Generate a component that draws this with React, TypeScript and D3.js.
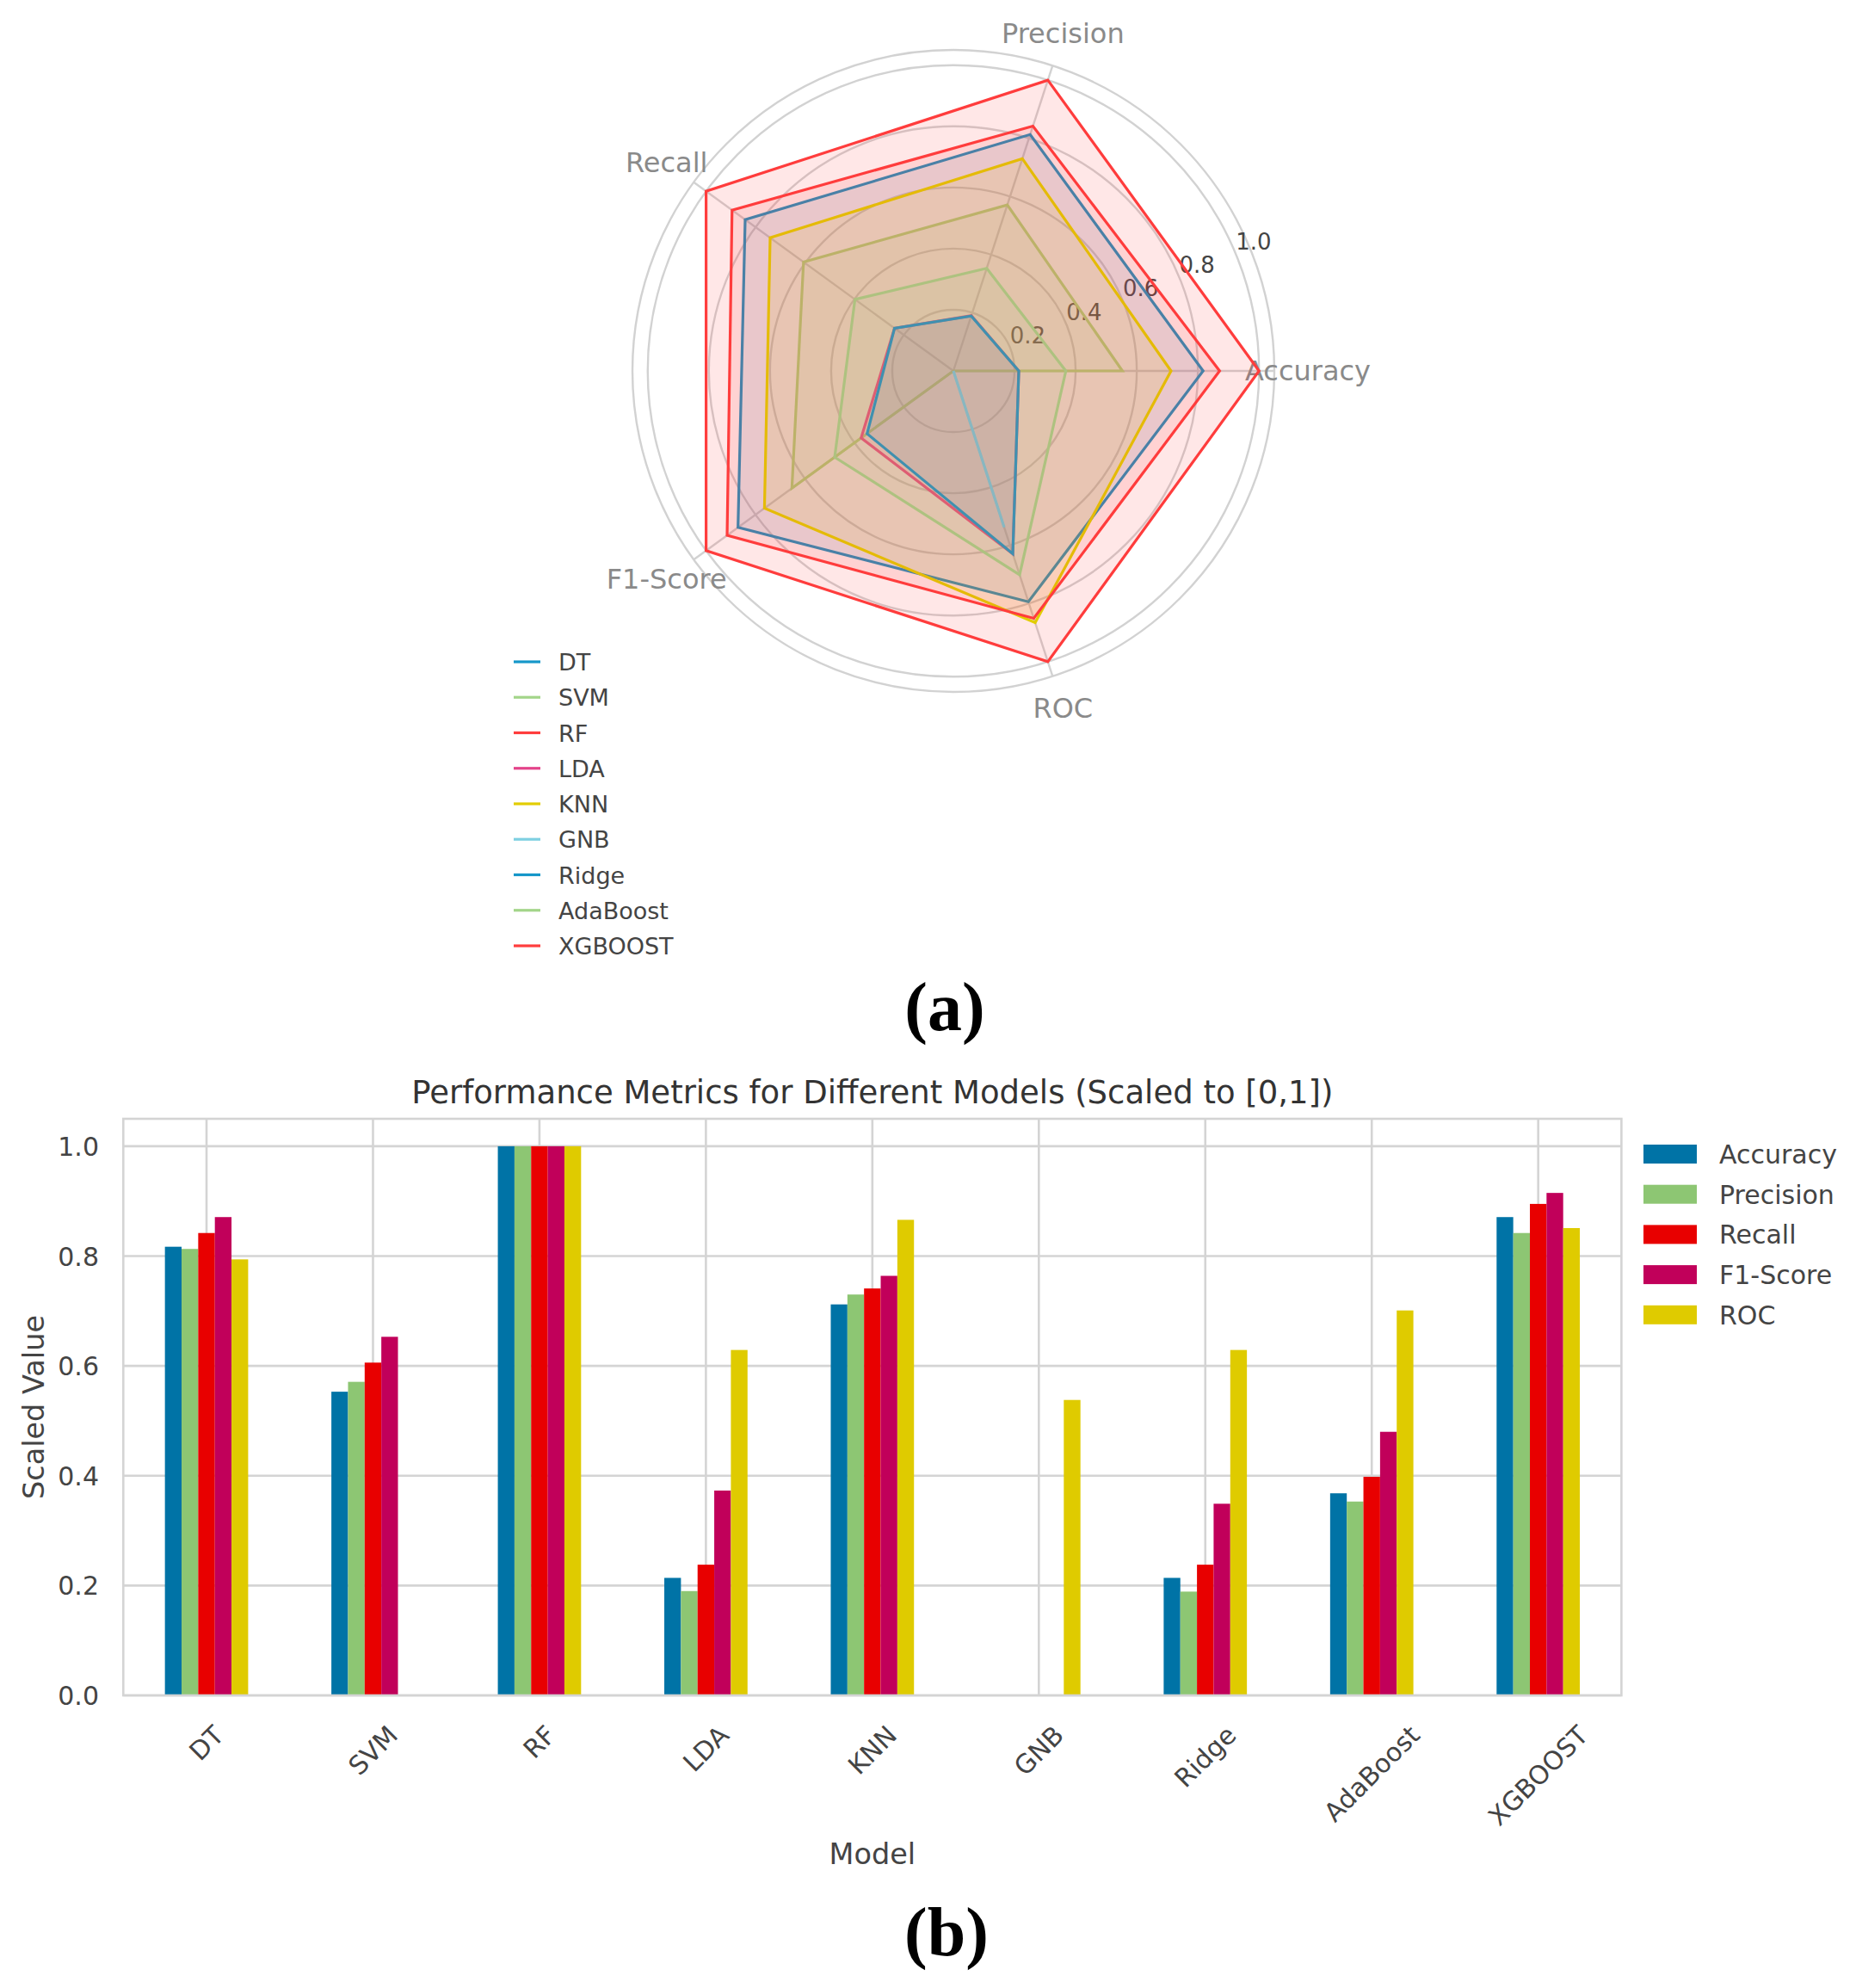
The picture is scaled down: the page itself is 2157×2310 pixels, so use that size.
import React from 'react';
import * as d3 from 'd3';

// ---------- data ----------
const models = ['DT', 'SVM', 'RF', 'LDA', 'KNN', 'GNB', 'Ridge', 'AdaBoost', 'XGBOOST'];
const metrics = ['Accuracy', 'Precision', 'Recall', 'F1-Score', 'ROC'];
const accuracy = [0.817, 0.553, 1.0, 0.214, 0.712, 0.0, 0.214, 0.368, 0.871];
const precision = [0.813, 0.571, 1.0, 0.19, 0.73, 0.0, 0.189, 0.353, 0.842];
const recall = [0.842, 0.606, 1.0, 0.238, 0.741, 0.0, 0.238, 0.398, 0.895];
const f1Score = [0.871, 0.653, 1.0, 0.373, 0.764, 0.0, 0.349, 0.48, 0.915];
const roc = [0.794, 0.0, 1.0, 0.629, 0.866, 0.538, 0.629, 0.701, 0.851];
const barYTicks = [0, 0.2, 0.4, 0.6, 0.8, 1.0];
const radarTicks = [0.2, 0.4, 0.6, 0.8, 1.0];
const barPalette = ['#0073a6', '#8dc673', '#e80000', '#c1005a', '#dfcb00'];
const radarPalette = ['#1597c9', '#a3d58a', '#ff3d3d', '#e3438a', '#e2cd00', '#7fd0e2'];

const seriesByMetric = [accuracy, precision, recall, f1Score, roc];

const FONT = '"DejaVu Sans", sans-serif';
const SERIF = '"Liberation Serif", "Times New Roman", serif';

let measureCtx: CanvasRenderingContext2D | null = null;
function textWidth(s: string, size: number) {
  if (!measureCtx) measureCtx = document.createElement('canvas').getContext('2d');
  if (!measureCtx) return s.length * size * 0.6;
  measureCtx.font = `${size}px "DejaVu Sans"`;
  return measureCtx.measureText(s).width;
}

function Radar() {
  const cx = 1108;
  const cy = 431;
  const r = d3.scaleLinear().domain([0, 1.05]).range([0, 373]);
  const a = d3.scaleLinear().domain([0, metrics.length]).range([Math.PI / 2, Math.PI / 2 - 2 * Math.PI]);
  const color = d3.scaleOrdinal<string, string>().domain(models).range(radarPalette);
  const line = d3
    .lineRadial<number>()
    .angle((_, i) => a(i))
    .radius((d) => r(d))
    .curve(d3.curveLinearClosed);
  const pt = (ang: number, rad: number) => [cx + rad * Math.sin(ang), cy - rad * Math.cos(ang)];
  const tickAng = Math.PI / 2 - Math.PI / 8;
  const labelR = 412;

  return (
    <g>
      {/* grid */}
      {[...radarTicks, 1.05].map((t) => (
        <circle key={t} cx={cx} cy={cy} r={r(t)} fill="none" stroke="#d2d2d2" strokeWidth={2.4} />
      ))}
      {metrics.map((m, i) => {
        const [x2, y2] = pt(a(i), r(1.05));
        return <line key={m} x1={cx} y1={cy} x2={x2} y2={y2} stroke="#d2d2d2" strokeWidth={2.4} />;
      })}
      {radarTicks.map((t) => {
        const [x, y] = pt(tickAng, r(t));
        return (
          <text key={t} x={x} y={y - 5} fontFamily={FONT} fontSize={26} fill="#444">
            {t.toFixed(1)}
          </text>
        );
      })}
      {metrics.map((m, i) => {
        const [x, y] = pt(a(i), labelR);
        return (
          <text key={m} x={x} y={y + 11} textAnchor="middle" fontFamily={FONT} fontSize={32} fill="#8a8a8a">
            {m}
          </text>
        );
      })}
      {/* polygons */}
      {models.map((m, k) => {
        const vals = seriesByMetric.map((s) => s[k]);
        const d = line(vals) || '';
        return (
          <g key={m} transform={`translate(${cx},${cy})`}>
            <path d={d} fill="none" stroke={color(m)} strokeWidth={3.2} strokeLinejoin="miter" />
            <path d={d} fill={color(m)} fillOpacity={0.12} stroke="none" />
          </g>
        );
      })}
      {/* legend */}
      {models.map((m, k) => {
        const y = 769 + k * 41.25;
        return (
          <g key={m}>
            <line x1={597} x2={628} y1={y} y2={y} stroke={color(m)} strokeWidth={3.2} />
            <text x={649} y={y + 10} fontFamily={FONT} fontSize={27} fill="#444">
              {m}
            </text>
          </g>
        );
      })}
    </g>
  );
}

function Bars() {
  const plot = { left: 143.3, right: 1884.4, top: 1300, bottom: 1970 };
  const x = d3.scaleBand().domain(models).range([plot.left, plot.right]).paddingInner(0.5).paddingOuter(0.25);
  const xm = d3.scaleBand().domain(metrics).range([0, x.bandwidth()]);
  const y = d3.scaleLinear().domain([0, 1.05]).range([plot.bottom, plot.top]);
  const color = d3.scaleOrdinal<string, string>().domain(metrics).range(barPalette);
  const gridColor = '#d4d4d4';
  const tickFont = 30;
  const cxMid = (plot.left + plot.right) / 2;

  return (
    <g>
      {/* grid */}
      {barYTicks.map((t) => (
        <line key={t} x1={plot.left} x2={plot.right} y1={y(t)} y2={y(t)} stroke={gridColor} strokeWidth={2.6} />
      ))}
      {models.map((m) => {
        const gx = (x(m) as number) + x.bandwidth() / 2;
        return <line key={m} x1={gx} x2={gx} y1={plot.top} y2={plot.bottom} stroke={gridColor} strokeWidth={2.6} />;
      })}
      {/* bars */}
      {models.map((m, k) => (
        <g key={m}>
          {metrics.map((met, j) => {
            const v = seriesByMetric[j][k];
            return (
              <rect
                key={met}
                x={(x(m) as number) + (xm(met) as number)}
                y={y(v)}
                width={xm.bandwidth()}
                height={y(0) - y(v)}
                fill={color(met)}
              />
            );
          })}
        </g>
      ))}
      <rect
        x={plot.left}
        y={plot.top}
        width={plot.right - plot.left}
        height={plot.bottom - plot.top}
        fill="none"
        stroke={gridColor}
        strokeWidth={2.6}
      />
      {/* y ticks */}
      {barYTicks.map((t) => (
        <text key={t} x={115} y={y(t) + 11} textAnchor="end" fontFamily={FONT} fontSize={tickFont} fill="#444">
          {t.toFixed(1)}
        </text>
      ))}
      {/* x ticks rotated */}
      {models.map((m) => {
        const gx = (x(m) as number) + x.bandwidth() / 2;
        const w = textWidth(m, tickFont);
        const cy = 2003 + ((w + 0.73 * tickFont) * Math.SQRT1_2) / 2;
        return (
          <text
            key={m}
            x={gx}
            y={cy}
            textAnchor="middle"
            dominantBaseline="central"
            transform={`rotate(-45,${gx},${cy})`}
            fontFamily={FONT}
            fontSize={tickFont}
            fill="#444"
          >
            {m}
          </text>
        );
      })}
      {/* title & labels */}
      <text x={cxMid} y={1282} textAnchor="middle" fontFamily={FONT} fontSize={37} fill="#333">
        Performance Metrics for Different Models (Scaled to [0,1])
      </text>
      <text
        x={39}
        y={1635}
        textAnchor="middle"
        dominantBaseline="central"
        transform={`rotate(-90,39,1635)`}
        fontFamily={FONT}
        fontSize={33.5}
        fill="#444"
      >
        Scaled Value
      </text>
      <text x={cxMid} y={2166} textAnchor="middle" fontFamily={FONT} fontSize={33.5} fill="#444">
        Model
      </text>
      {/* legend */}
      {metrics.map((met, j) => {
        const ly = 1341 + j * 46.7;
        return (
          <g key={met}>
            <rect x={1910} y={ly - 11} width={62} height={22} fill={color(met)} />
            <text x={1998} y={ly + 11} fontFamily={FONT} fontSize={30} fill="#444">
              {met}
            </text>
          </g>
        );
      })}
    </g>
  );
}

export default function App() {
  return (
    <div style={{ position: 'absolute', left: 0, top: 0 }}>
      <svg width={2157} height={2310} viewBox="0 0 2157 2310" style={{ display: 'block', background: '#fff' }}>
        <rect x={0} y={0} width={2157} height={2310} fill="#fff" />
        <Radar />
        <Bars />
        <text x={1098} y={1197} textAnchor="middle" fontFamily={SERIF} fontWeight="bold" fontSize={80} fill="#000">
          (a)
        </text>
        <text x={1100} y={2272} textAnchor="middle" fontFamily={SERIF} fontWeight="bold" fontSize={80} fill="#000">
          (b)
        </text>
      </svg>
    </div>
  );
}
